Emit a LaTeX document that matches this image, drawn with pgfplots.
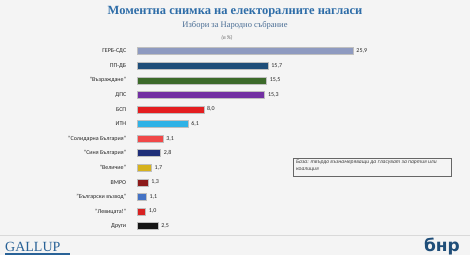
\documentclass[border=0pt]{standalone}
\usepackage{pgfplots}
\pgfplotsset{compat=1.18}
\usepackage{fontspec}
\setmainfont{Carlito}
\newfontfamily\titlefont{Liberation Serif}
\newfontfamily\logofont{DejaVu Sans}
\definecolor{bg}{HTML}{F4F4F4}
\definecolor{titleblue}{HTML}{2E6DA8}
\definecolor{subblue}{HTML}{4A6E95}
\definecolor{cGERB}{HTML}{8E9AC0}
\definecolor{cPPDB}{HTML}{1F4E79}
\definecolor{cVaz}{HTML}{3C6A2A}
\definecolor{cDPS}{HTML}{7230A2}
\definecolor{cBSP}{HTML}{E41E20}
\definecolor{cITN}{HTML}{2FB2E6}
\definecolor{cSol}{HTML}{F04848}
\definecolor{cSinya}{HTML}{1E2E78}
\definecolor{cVel}{HTML}{D6B21E}
\definecolor{cVMRO}{HTML}{8C1A1A}
\definecolor{cBV}{HTML}{4472C4}
\definecolor{cLev}{HTML}{D82222}
\definecolor{cDrugi}{HTML}{151515}
\begin{document}
\begin{tikzpicture}[x=1pt,y=1pt]
\fill[bg] (0,0) rectangle (470,255);
\useasboundingbox (0,0) rectangle (470,255);
\node[font=\titlefont\bfseries\fontsize{12.5}{14}\selectfont, text=titleblue] at (235,243) {Моментна снимка на електоралните нагласи};
\node[font=\titlefont\fontsize{8.5}{10}\selectfont, text=subblue] at (235,230) {Избори за Народно събрание};
\node[font=\itshape\fontsize{5.5}{6}\selectfont, text=black!60] at (227,217) {(в \%)};
\begin{axis}[
  at={(137pt,21.7pt)}, anchor=south west,
  scale only axis, width=250.2pt, height=189.6pt,
  xbar, bar width=7pt,
  xmin=0, xmax=30, ymin=-0.5, ymax=12.5,
  axis line style={draw=none}, tick style={draw=none},
  xticklabels={}, xtick=\empty,
  ytick={0,...,12},
  yticklabels={Други,"Левицата!","Български възход",ВМРО,"Величие","Синя България","Солидарна България",ИТН,БСП,ДПС,"Възраждане",ПП-ДБ,ГЕРБ-СДС},
  yticklabel style={font=\fontsize{6}{7}\selectfont, text=black!85, xshift=-3pt},
  nodes near coords,
  nodes near coords style={font=\fontsize{6}{7}\selectfont, text=black!85, /pgf/number format/.cd, fixed, fixed zerofill, precision=1, use comma, assume math mode=true},
  every axis plot/.append style={bar shift=0pt, draw=black!25, line width=0.3pt},
  clip=false,
]
\addplot[fill=cGERB] coordinates {(25.9,12)};
\addplot[fill=cPPDB] coordinates {(15.7,11)};
\addplot[fill=cVaz] coordinates {(15.5,10)};
\addplot[fill=cDPS] coordinates {(15.3,9)};
\addplot[fill=cBSP] coordinates {(8.0,8)};
\addplot[fill=cITN] coordinates {(6.1,7)};
\addplot[fill=cSol] coordinates {(3.1,6)};
\addplot[fill=cSinya] coordinates {(2.8,5)};
\addplot[fill=cVel] coordinates {(1.7,4)};
\addplot[fill=cVMRO] coordinates {(1.3,3)};
\addplot[fill=cBV] coordinates {(1.1,2)};
\addplot[fill=cLev] coordinates {(1.0,1)};
\addplot[fill=cDrugi] coordinates {(2.5,0)};
\end{axis}
\draw[black!60, line width=0.5pt] (293,79) rectangle (451,97);
\node[font=\itshape\fontsize{5.6}{7}\selectfont, text=black!75, anchor=north west, align=left, inner sep=0pt] at (296,95.5) {База: твърдо възнамеряващи да гласуват за партия или\\коалиция};
\draw[black!15, line width=0.6pt] (0,20) -- (470,20);
\node[font=\titlefont\fontsize{14}{14}\selectfont, text=titleblue!90!black, anchor=south west, inner sep=0pt] at (5,3.5) {GALLUP};
\fill[titleblue!90!black] (5,0) rectangle (70,2);
\node[font=\logofont\bfseries\fontsize{17}{17}\selectfont, text=cPPDB, anchor=south east, inner sep=0pt] at (460,0) {бнр};
\end{tikzpicture}
\end{document}
